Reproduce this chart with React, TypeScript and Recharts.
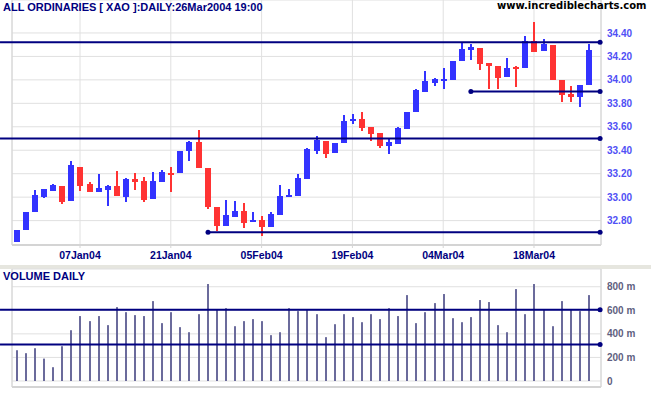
import React from "react";
import {
  ComposedChart,
  Bar,
  XAxis,
  YAxis,
  CartesianGrid,
  ReferenceLine,
  ReferenceDot,
} from "recharts";

// trading days, 24 Dec 2003 .. 26 Mar 2004
const dates = [
  "24Dec03", "29Dec03", "30Dec03", "31Dec03", "02Jan04", "05Jan04", "06Jan04", "07Jan04",
  "08Jan04", "09Jan04", "12Jan04", "13Jan04", "14Jan04", "15Jan04", "16Jan04", "19Jan04",
  "20Jan04", "21Jan04", "22Jan04", "23Jan04", "27Jan04", "28Jan04", "29Jan04", "30Jan04",
  "02Feb04", "03Feb04", "04Feb04", "05Feb04", "06Feb04", "09Feb04", "10Feb04", "11Feb04",
  "12Feb04", "13Feb04", "16Feb04", "17Feb04", "18Feb04", "19Feb04", "20Feb04", "23Feb04",
  "24Feb04", "25Feb04", "26Feb04", "27Feb04", "01Mar04", "02Mar04", "03Mar04", "04Mar04",
  "05Mar04", "08Mar04", "09Mar04", "10Mar04", "11Mar04", "12Mar04", "15Mar04", "16Mar04",
  "17Mar04", "18Mar04", "19Mar04", "22Mar04", "23Mar04", "24Mar04", "25Mar04", "26Mar04",
];

const open = [
  32.62, 32.72, 32.87, 33.0, 33.055, 33.095, 32.97, 33.26, 33.11, 33.045, 33.065, 33.095,
  33.0, 33.155, 33.14, 32.985, 33.13, 33.21, 33.21, 33.39, 33.47, 33.25, 32.92, 32.755,
  32.835, 32.88, 32.785, 32.805, 32.745, 32.85, 33.0, 33.01, 33.155, 33.39, 33.48, 33.38,
  33.465, 33.65, 33.67, 33.6, 33.545, 33.44, 33.45, 33.585, 33.73, 33.9, 33.975, 33.99,
  34.0, 34.16, 34.255, 34.27, 34.14, 34.12, 34.025, 34.11, 34.105, 34.33, 34.25, 34.3,
  33.995, 33.88, 33.85, 33.955,
];
const high = [
  32.72, 32.87, 33.06, 33.07, 33.115, 33.095, 33.31, 33.26, 33.13, 33.2, 33.105, 33.225,
  33.165, 33.21, 33.175, 33.215, 33.23, 33.255, 33.395, 33.48, 33.575, 33.25, 32.92, 32.975,
  32.965, 32.95, 32.875, 32.84, 32.875, 33.105, 33.07, 33.195, 33.42, 33.52, 33.48, 33.46,
  33.7, 33.705, 33.73, 33.6, 33.545, 33.505, 33.595, 33.725, 33.92, 34.075, 34.015, 34.105,
  34.16, 34.325, 34.31, 34.27, 34.14, 34.12, 34.19, 34.12, 34.375, 34.49, 34.345, 34.3,
  33.995, 33.95, 33.955, 34.31,
];
const low = [
  32.62, 32.72, 32.87, 32.99, 33.055, 32.94, 32.97, 33.055, 33.04, 33.045, 32.925, 33.01,
  32.96, 33.06, 32.955, 32.985, 33.13, 33.045, 33.21, 33.31, 33.25, 32.9, 32.715, 32.755,
  32.835, 32.74, 32.785, 32.67, 32.745, 32.85, 33.0, 33.01, 33.155, 33.37, 33.335, 33.38,
  33.465, 33.62, 33.565, 33.48, 33.42, 33.37, 33.45, 33.585, 33.73, 33.9, 33.95, 33.925,
  34.0, 34.16, 34.17, 34.08, 33.925, 33.925, 34.025, 33.94, 34.105, 34.24, 34.25, 33.995,
  33.815, 33.815, 33.765, 33.955,
];
const close = [
  32.72, 32.87, 33.02, 33.07, 33.1, 32.96, 33.27, 33.095, 33.04, 33.075, 33.095, 33.01,
  33.155, 33.125, 32.975, 33.14, 33.215, 33.2, 33.395, 33.47, 33.25, 32.915, 32.755, 32.845,
  32.88, 32.78, 32.805, 32.745, 32.855, 33.01, 33.02, 33.16, 33.41, 33.49, 33.37, 33.46,
  33.65, 33.67, 33.59, 33.54, 33.435, 33.47, 33.59, 33.725, 33.91, 33.99, 34.005, 34.01,
  34.16, 34.26, 34.28, 34.135, 34.115, 34.02, 34.105, 34.1, 34.33, 34.24, 34.31, 33.995,
  33.875, 33.85, 33.955, 34.255,
];
// volume in millions
const volume = [
  261, 236, 278, 190, 117, 295, 431, 551, 508, 551, 474, 627, 584, 559, 551, 678,
  491, 584, 457, 414, 567, 823, 610, 618, 465, 508, 525, 508, 389, 414, 618, 593,
  610, 567, 372, 482, 567, 542, 499, 567, 525, 618, 551, 729, 491, 584, 661, 738,
  533, 499, 542, 687, 670, 474, 414, 780, 567, 823, 610, 465, 678, 610, 593, 729,
];

const dateTicks = ["07Jan04", "21Jan04", "05Feb04", "19Feb04", "04Mar04", "18Mar04"];
const priceTicks = [32.8, 33.0, 33.2, 33.4, 33.6, 33.8, 34.0, 34.2, 34.4];
const volumeTicks = [0, 200, 400, 600, 800];

// support / resistance lines: [value, start index]
const priceLines: [number, number][] = [
  [34.32, -1.81],
  [33.5, -1.81],
  [32.7, 21.1],
  [33.9, 50.05],
];
const volumeLines = [605, 310];

const data = dates.map((d, i) => ({
  i,
  date: d,
  open: open[i],
  high: high[i],
  low: low[i],
  close: close[i],
  vol: volume[i],
}));

const X_DOMAIN: [number, number] = [-0.49, 64.38];
const X_LEFT = -1.81;
const tickIdx = dateTicks.map((t) => dates.indexOf(t));
const NAVY = "#000080";
const GRID = "#e0e0e0";
const BORDER = "#d4d4d4";

function Candle(props: any) {
  const { x, y, width, height, payload } = props;
  const top = Math.min(y, y + height);
  const bot = Math.max(y, y + height);
  const span = payload.high - payload.low;
  const py = (v: number) => (span > 0 ? top + ((payload.high - v) / span) * (bot - top) : top);
  const cx = Math.round(x + width / 2);
  const up = payload.close >= payload.open;
  const color = up ? "#3333ff" : "#ff3333";
  const bTop = Math.round(py(Math.max(payload.open, payload.close)));
  const bBot = Math.round(py(Math.min(payload.open, payload.close)));
  return (
    <g>
      <rect x={cx - 1} y={Math.round(top)} width={2} height={Math.max(Math.round(bot) - Math.round(top), 1)} fill={color} />
      <rect x={cx - 3} y={bTop} width={6} height={Math.max(bBot - bTop, 2)} fill={color} />
    </g>
  );
}

function VolBar(props: any) {
  const { x, y, width, height } = props;
  const cx = Math.round(x + width / 2);
  return <rect x={cx - 1} y={y} width={2} height={height} fill="#6b6b9c" />;
}

const labelFont = { fontFamily: "'Liberation Sans', Arial, sans-serif", fontWeight: 700 };

export default function App() {
  return (
    <div
      style={{
        position: "absolute",
        top: 0,
        left: 0,
        width: 651,
        height: 395,
        background: "#fff",
        overflow: "hidden",
      }}
    >
      <div style={{ position: "absolute", top: 0, left: 0 }}>
        <ComposedChart width={651} height={262} data={data} margin={{ top: 0, right: 0, left: 12, bottom: 0 }}>
          <CartesianGrid stroke={GRID} />
          <XAxis
            type="number"
            dataKey="i"
            domain={X_DOMAIN}
            allowDataOverflow
            ticks={tickIdx}
            interval={0}
            height={17}
            tickFormatter={(v: number) => dates[v] ?? ""}
            tick={{ fill: NAVY, fontSize: 10.5, ...labelFont }}
            stroke={BORDER}
            axisLine={{ stroke: BORDER, strokeWidth: 2 }}
            tickLine={{ stroke: BORDER }}
            tickSize={3}
            tickMargin={4}
          />
          <YAxis
            orientation="right"
            width={50}
            domain={[32.592, 34.681]}
            allowDataOverflow
            ticks={priceTicks}
            interval={0}
            tickFormatter={(v: number) => v.toFixed(2)}
            tick={{ fill: "#5050f5", fontSize: 10, ...labelFont }}
            axisLine={{ stroke: BORDER }}
            tickLine={false}
            tickSize={0}
            tickMargin={6}
          />
          <ReferenceLine x={X_DOMAIN[0]} stroke={BORDER} />
          {priceLines.map(([v, start]) => (
            <ReferenceLine
              key={v}
              segment={[{ x: start, y: v }, { x: X_DOMAIN[1], y: v }]}
              stroke={NAVY}
              strokeWidth={2}
              ifOverflow="visible"
            />
          ))}
          {priceLines.map(([v]) => (
            <ReferenceDot key={"r" + v} x={X_DOMAIN[1] - 0.1} y={v} r={2.5} fill={NAVY} stroke="none" ifOverflow="visible" />
          ))}
          {priceLines
            .filter(([, start]) => start > 0)
            .map(([v, start]) => (
              <ReferenceDot key={"l" + v} x={start} y={v} r={2.5} fill={NAVY} stroke="none" ifOverflow="visible" />
            ))}
          <Bar
            dataKey={(d: any) => [d.low, d.high]}
            barSize={6}
            shape={<Candle />}
            isAnimationActive={false}
          />
        </ComposedChart>
      </div>

      <div style={{ position: "absolute", top: 265, left: 0, width: 651, height: 4, background: "#e6e6df" }} />

      <div style={{ position: "absolute", top: 262, left: 0 }}>
        <ComposedChart width={651} height={133} data={data} margin={{ top: 7, right: 0, left: 12, bottom: 0 }}>
          <CartesianGrid stroke={GRID} />
          <XAxis
            type="number"
            dataKey="i"
            domain={X_DOMAIN}
            allowDataOverflow
            ticks={tickIdx}
            interval={0}
            height={8}
            tick={false}
            axisLine={{ stroke: BORDER, strokeWidth: 2 }}
            tickLine={{ stroke: BORDER }}
            tickSize={8}
          />
          <YAxis
            orientation="right"
            width={50}
            domain={[-51, 950.6]}
            allowDataOverflow
            ticks={volumeTicks}
            interval={0}
            tickFormatter={(v: number) => (v === 0 ? "0" : `${v} m`)}
            tick={{ fill: "#5f5f80", fontSize: 10, ...labelFont }}
            axisLine={{ stroke: BORDER }}
            tickLine={false}
            tickSize={0}
            tickMargin={6}
          />
          <ReferenceLine x={X_DOMAIN[0]} stroke={BORDER} />
          <Bar dataKey="vol" barSize={2} shape={<VolBar />} isAnimationActive={false} />
          {volumeLines.map((v) => (
            <ReferenceLine
              key={v}
              segment={[{ x: X_LEFT, y: v }, { x: X_DOMAIN[1], y: v }]}
              stroke={NAVY}
              strokeWidth={2}
              ifOverflow="visible"
            />
          ))}
          {volumeLines.map((v) => (
            <ReferenceDot key={"d" + v} x={X_DOMAIN[1] - 0.1} y={v} r={2.5} fill={NAVY} stroke="none" ifOverflow="visible" />
          ))}
        </ComposedChart>
      </div>

      <div style={{ position: "absolute", top: 1, left: 3, fontSize: 11, color: NAVY, whiteSpace: "nowrap", ...labelFont }}>
        ALL ORDINARIES [ XAO ]:DAILY:26Mar2004 19:00
      </div>
      <div
        style={{
          position: "absolute",
          top: 0,
          left: 497,
          fontSize: 10,
          color: "#000",
          whiteSpace: "nowrap",
          fontFamily: "'DejaVu Sans', Verdana, sans-serif",
          fontWeight: 700,
        }}
      >
        www.incrediblecharts.com
      </div>
      <div style={{ position: "absolute", top: 270, left: 3, fontSize: 11, color: NAVY, whiteSpace: "nowrap", ...labelFont }}>
        VOLUME DAILY
      </div>
    </div>
  );
}
